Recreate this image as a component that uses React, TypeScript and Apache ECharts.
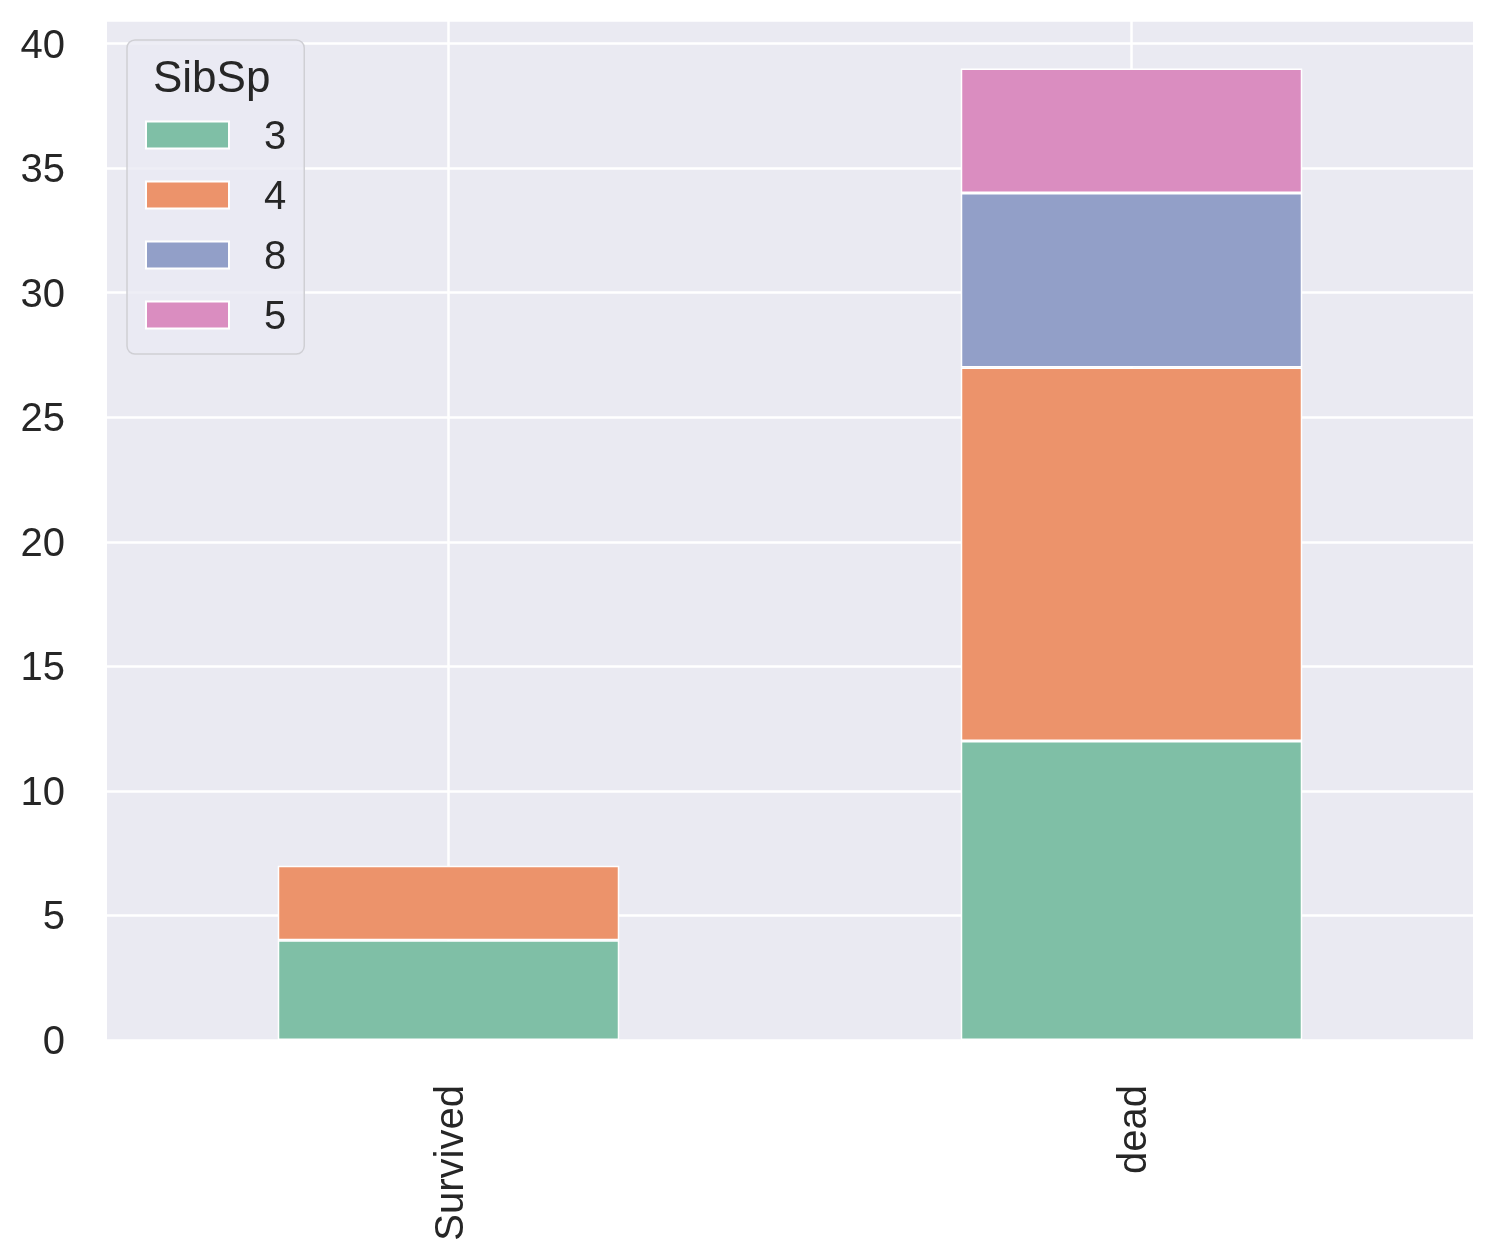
import React, { useEffect, useRef } from "react";
import * as echarts from "echarts";

const categories = ["Survived", "dead"];
const seriesNames = ["3", "4", "8", "5"];
const values3 = [4, 12];
const values4 = [3, 15];
const values8 = [null, 7];
const values5 = [null, 5];
const colors = ["#7fbfa6", "#ec936b", "#929fc8", "#da8dc0"];
const yTicks = { min: 0, max: 40.95, interval: 5 };
const legendTitle = "SibSp";

export default function App() {
  const ref = useRef<HTMLDivElement>(null);
  useEffect(() => {
    if (!ref.current) return;
    const chart = echarts.init(ref.current, undefined, { renderer: "svg" });
    const font = "Liberation Sans, Arial, sans-serif";
    const allValues = [values3, values4, values8, values5];
    const barSeries = seriesNames.map((name, i) => ({
      name,
      type: "bar",
      stack: "total",
      barWidth: "50%",
      z: 3,
      data: allValues[i],
      itemStyle: { color: colors[i], borderColor: "#ffffff", borderWidth: 1.5 },
    }));
    chart.setOption({
      animation: false,
      textStyle: { fontFamily: font },
      grid: {
        left: 107,
        right: 21,
        top: 20,
        bottom: 212,
        show: true,
        backgroundColor: "#EAEAF2",
        borderWidth: 0,
      },
      xAxis: {
        type: "category",
        data: categories,
        axisLine: { show: false },
        axisTick: { show: false },
        splitLine: { show: false },
        axisLabel: {
          rotate: 90,
          margin: 45,
          fontSize: 40,
          color: "#262626",
          fontFamily: font,
        },
      },
      yAxis: {
        type: "value",
        min: yTicks.min,
        max: yTicks.max,
        interval: yTicks.interval,
        axisLine: { show: false },
        axisTick: { show: false },
        splitLine: { show: true, lineStyle: { color: "#ffffff", width: 2.5 } },
        axisLabel: {
          margin: 42,
          fontSize: 40,
          color: "#262626",
          fontFamily: font,
          showMaxLabel: false,
        },
      },
      legend: {
        data: seriesNames,
        orient: "vertical",
        left: 127,
        top: 40,
        icon: "rect",
        itemWidth: 83,
        itemHeight: 27,
        itemGap: 20,
        padding: [75, 18, 19, 18],
        backgroundColor: "rgba(234,234,242,0.8)",
        borderColor: "#cfcfd4",
        borderWidth: 1.5,
        borderRadius: 8,
        textStyle: {
          fontSize: 40,
          lineHeight: 40,
          color: "#262626",
          fontFamily: font,
          padding: [0, 0, 0, 30],
        },
      },
      graphic: [
        {
          type: "text",
          left: 153,
          top: 54,
          z: 100,
          style: {
            text: legendTitle,
            fontSize: 44,
            fill: "#262626",
            fontFamily: font,
          },
        },
      ],
      series: [
        {
          name: "_grid",
          type: "line",
          z: 1,
          data: [null, null],
          silent: true,
          markLine: {
            z: 1,
            silent: true,
            symbol: "none",
            label: { show: false },
            lineStyle: { color: "#ffffff", width: 2.5, type: "solid" },
            data: categories.map((c) => ({ xAxis: c })),
          },
        },
        ...barSeries,
      ],
    });
    return () => chart.dispose();
  }, []);
  return (
    <div
      ref={ref}
      style={{ position: "fixed", left: 0, top: 0, width: 1494, height: 1252 }}
    />
  );
}
